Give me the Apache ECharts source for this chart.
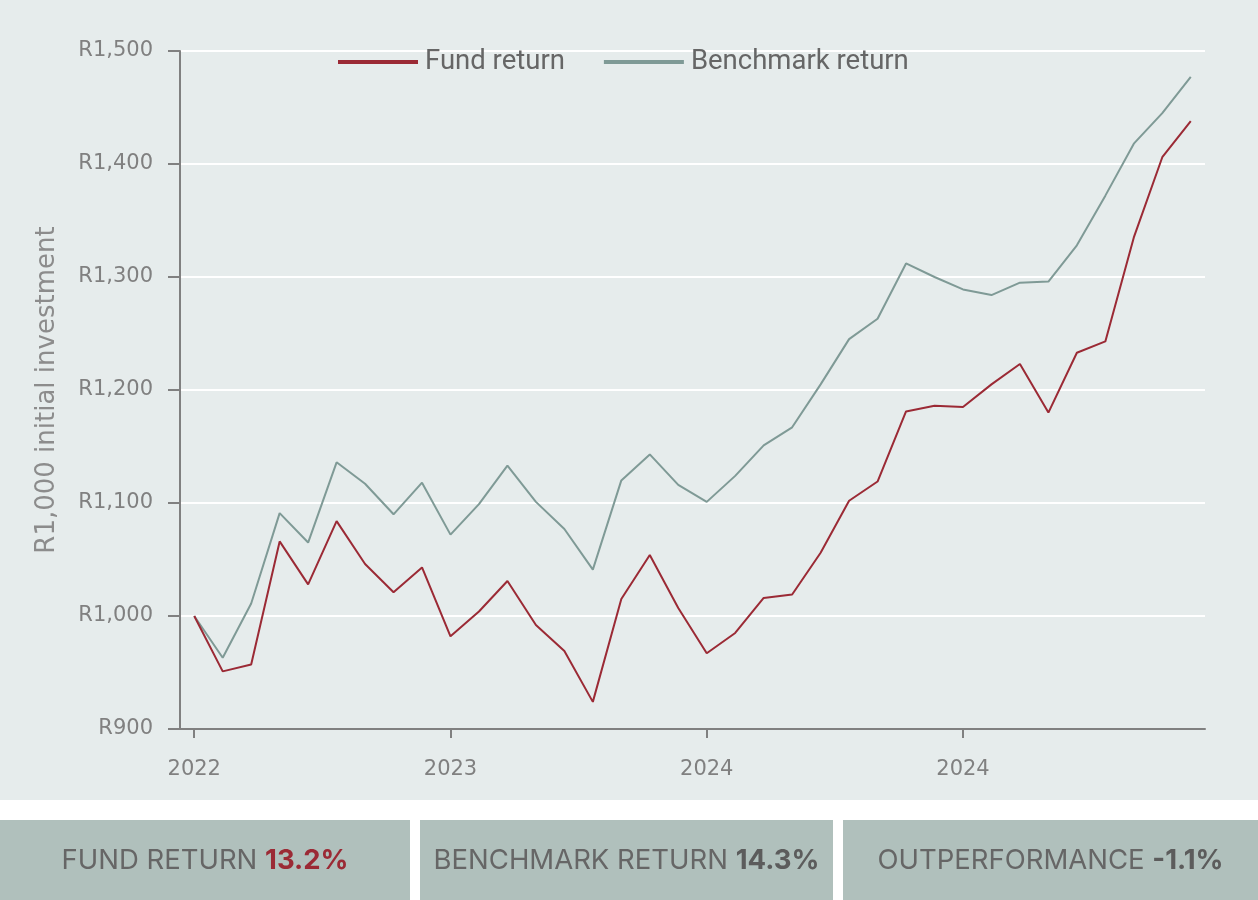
<!DOCTYPE html>
<html>
<head>
<meta charset="utf-8">
<script src="https://cdn.jsdelivr.net/npm/echarts@6/dist/echarts.min.js"></script>
<style>
html,body{margin:0;padding:0;background:#ffffff;}
#chart{width:1258px;height:900px;}
</style>
</head>
<body>
<div id="chart"></div>
<script>
// Category slots (monthly points); only some carry tick labels
const categories = [
  '2022','','','','','','','','',
  '2023','','','','','','','','',
  '2024','','','','','','','','',
  '2024','','','','','','','',''
];
const fundReturn = [
  1000, 951, 957, 1066, 1028, 1084, 1046, 1021, 1043,
  982, 1004, 1031, 992, 969, 924, 1015, 1054, 1007,
  967, 985, 1016, 1019, 1056, 1102, 1119, 1181, 1186,
  1185, 1205, 1223, 1180, 1233, 1243, 1335, 1406, 1438
];
const benchmarkReturn = [
  1000, 963, 1011, 1091, 1065, 1136, 1117, 1090, 1118,
  1072, 1099, 1133, 1101, 1077, 1041, 1120, 1143, 1116,
  1101, 1124, 1151, 1167, 1205, 1245, 1263, 1312, 1300,
  1289, 1284, 1295, 1296, 1328, 1372, 1418, 1445, 1477
];
const seriesNames = ['Fund return', 'Benchmark return'];
const yAxisTitle = 'R1,000 initial investment';
const statLabels = ['FUND RETURN ', 'BENCHMARK RETURN ', 'OUTPERFORMANCE '];
const statValues = ['13.2%', '14.3%', '-1.1%'];

const FUND_COLOR = '#9b2a35';
const BENCH_COLOR = '#7f9a96';
const BG = '#e6ecec';
const BOX = '#b0c0bc';

const chart = echarts.init(document.getElementById('chart'), null, {renderer: 'canvas'});

function fmtR(v) {
  return 'R' + String(v).replace(/\B(?=(\d{3})+(?!\d))/g, ',');
}

const boxes = [
  {x: 0, w: 410},
  {x: 420, w: 413},
  {x: 843, w: 415}
];
const valueStyles = ['fund', 'plain', 'plain'];

const graphics = [
  {type: 'rect', left: 0, top: 800, z: -1, shape: {x: 0, y: 0, width: 1258, height: 100}, style: {fill: '#ffffff'}}
];
boxes.forEach((b, i) => {
  graphics.push({
    type: 'rect', left: b.x, top: 820, z: 1,
    shape: {x: 0, y: 0, width: b.w, height: 80},
    style: {fill: BOX}
  });
  graphics.push({
    type: 'text', z: 2,
    x: b.x + b.w / 2, y: 861,
    style: {
      text: '{l|' + statLabels[i] + '}{' + valueStyles[i] + '|' + statValues[i] + '}',
      align: 'center', verticalAlign: 'middle',
      rich: {
        l: {fontFamily: 'Inter', fontSize: 27.5, fill: '#666666'},
        fund: {fontFamily: 'Inter', fontSize: 27.5, fontWeight: 'bold', fill: FUND_COLOR},
        plain: {fontFamily: 'Inter', fontSize: 27.5, fontWeight: 'bold', fill: '#5c5c5c'}
      }
    }
  });
});

const option = {
  animation: false,
  backgroundColor: BG,
  legend: {
    data: seriesNames,
    left: 333,
    top: 43,
    itemWidth: 80,
    itemHeight: 4,
    itemGap: 39,
    icon: 'rect',
    textStyle: {fontFamily: 'Roboto', fontSize: 27.5, color: '#666666', padding: [0, 0, 0, 2]}
  },
  grid: {left: 180, right: 53, top: 51, bottom: 171, containLabel: false},
  xAxis: {
    type: 'category',
    data: categories,
    boundaryGap: true,
    axisLine: {show: true, lineStyle: {color: '#808080', width: 2}},
    axisTick: {show: true, alignWithLabel: true, length: 9, interval: (i) => categories[i] !== '', lineStyle: {color: '#808080', width: 2}},
    axisLabel: {interval: 0, margin: 30, fontFamily: 'DejaVu Sans', fontSize: 21, color: '#808080'},
    splitLine: {show: false}
  },
  yAxis: {
    type: 'value',
    min: 900, max: 1500, interval: 100,
    name: yAxisTitle,
    nameLocation: 'middle',
    nameGap: 120,
    nameTextStyle: {fontFamily: 'DejaVu Sans', fontSize: 26, color: '#8c8c8c'},
    axisLine: {show: true, lineStyle: {color: '#808080', width: 2}},
    axisTick: {show: true, length: 12, lineStyle: {color: '#808080', width: 2}},
    axisLabel: {margin: 27, fontFamily: 'DejaVu Sans', fontSize: 21, color: '#808080', formatter: fmtR},
    splitLine: {show: true, lineStyle: {color: '#ffffff', width: 2}}
  },
  series: [
    {
      name: seriesNames[0], type: 'line', data: fundReturn,
      symbol: 'none', color: FUND_COLOR,
      lineStyle: {color: FUND_COLOR, width: 2}, z: 3
    },
    {
      name: seriesNames[1], type: 'line', data: benchmarkReturn,
      symbol: 'none', color: BENCH_COLOR,
      lineStyle: {color: BENCH_COLOR, width: 2}, z: 2
    }
  ],
  graphic: graphics
};
chart.setOption(option);
</script>
</body>
</html>
